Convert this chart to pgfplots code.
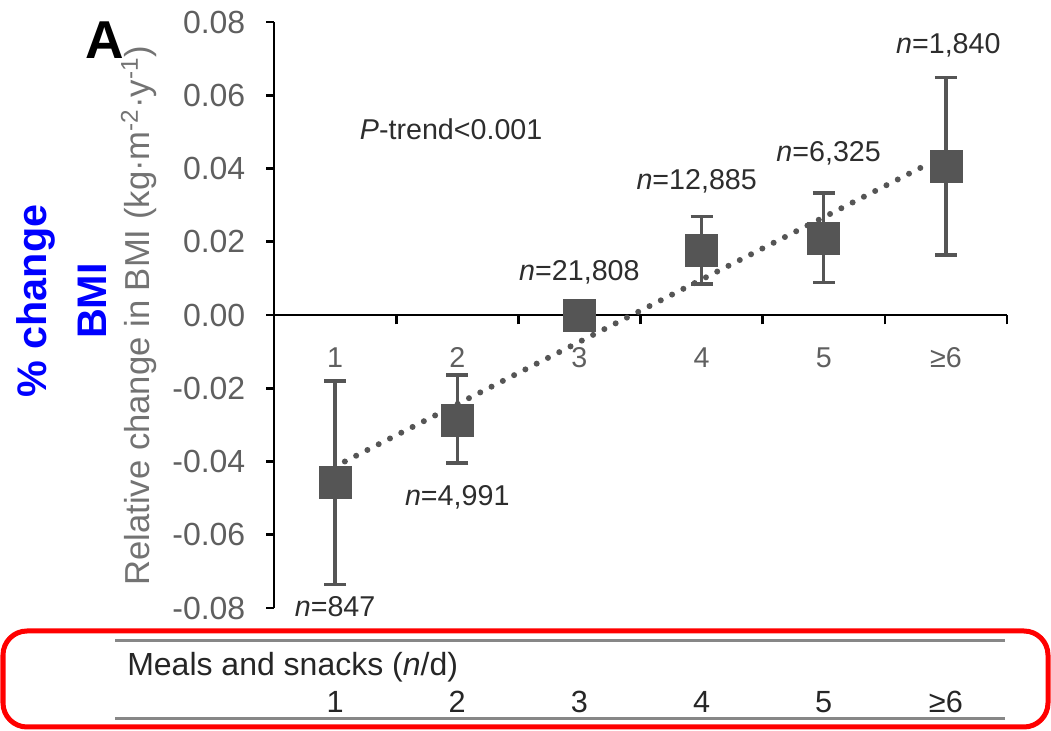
\documentclass[border=0pt]{standalone}
\usepackage{pgfplots}
\pgfplotsset{compat=1.18}
\usepackage{fontspec}
\setmainfont{Liberation Sans}
\definecolor{mk}{RGB}{85,85,85}
\definecolor{tl}{RGB}{95,95,95}
\definecolor{nl}{RGB}{45,45,45}
\definecolor{yl}{RGB}{115,115,115}
\definecolor{tg}{RGB}{135,135,135}
\pgfplotstableread{
x y ep em
1 -0.0456 0.0276 0.0279
2 -0.0287 0.0123 0.0117
3 0.0000 0.0000 0.0000
4 0.0176 0.0093 0.0091
5 0.0210 0.0123 0.0121
6 0.0406 0.0242 0.0242
}\means
\newcommand{\tkf}{\fontsize{21.5}{24}\selectfont}
\newcommand{\tbf}{\fontsize{23}{26}\selectfont}
\begin{document}
\begin{tikzpicture}
\useasboundingbox (0,0) rectangle (788.25pt,548.25pt);
\begin{axis}[
 at={(205.5pt,92.25pt)}, anchor=south west,
 scale only axis, width=549.75pt, height=439.5pt,
 xmin=0.5, xmax=6.5, ymin=-0.08, ymax=0.08,
 axis x line=middle, axis y line=left,
 axis line style={-, line width=2pt, black},
 xtick={1,2,3,4,5,6}, xticklabels={1,2,3,4,5,≥6},
 major x tick style={draw=none},
 minor xtick={1.5,2.5,3.5,4.5,5.5,6.5},
 minor x tick style={line width=2pt, black},
 minor tick length=7pt,
 ytick={-0.08,-0.06,-0.04,-0.02,0,0.02,0.04,0.06,0.08},
 scaled y ticks=false,
 major tick length=6pt,
 y tick style={line width=2pt, black},
 tick align=outside,
 hide obscured x ticks=false, hide obscured y ticks=false,
 /pgf/number format/assume math mode=true,
 yticklabel style={/pgf/number format/fixed, /pgf/number format/fixed zerofill, /pgf/number format/precision=2, font=\fontsize{24}{27}\selectfont, text=tl, xshift=-12pt},
 xticklabel style={font=\tkf, text=tl, yshift=-15pt},
 clip=false,
]
\addplot[color=mk, line width=4.5pt, line cap=round, dash pattern=on 0pt off 9.5pt] coordinates {(1.08,-0.0400) (5.87,0.0415)};
\addplot[only marks, mark=square*, mark size=12pt, color=mk, mark options={fill=mk, draw=mk, line width=0.5pt},
  error bars/.cd, y dir=both, y explicit,
  error bar style={line width=2.5pt, mk},
  error mark options={line width=2.5pt, mk, mark size=8.25pt, rotate=90}]
  table[x=x, y=y, y error plus=ep, y error minus=em] {\means};
\node[nl, font=\tkf] at (axis cs:1,-0.0797) {\textit{n}=847};
\node[nl, font=\tkf] at (axis cs:2,-0.0497) {\textit{n}=4,991};
\node[nl, font=\tkf] at (axis cs:3,0.0117) {\textit{n}=21,808};
\node[nl, font=\tkf] at (axis cs:3.96,0.0366) {\textit{n}=12,885};
\node[nl, font=\tkf] at (axis cs:5.04,0.0442) {\textit{n}=6,325};
\node[nl, font=\tkf] at (axis cs:6.02,0.0737) {\textit{n}=1,840};
\node[nl, font=\tkf] at (axis cs:1.95,0.0508) {\textit{P}-trend<0.001};
\node[black!85, font=\tbf] at (axis cs:1,-0.1057) {1};
\node[black!85, font=\tbf] at (axis cs:2,-0.1057) {2};
\node[black!85, font=\tbf] at (axis cs:3,-0.1057) {3};
\node[black!85, font=\tbf] at (axis cs:4,-0.1057) {4};
\node[black!85, font=\tbf] at (axis cs:5,-0.1057) {5};
\node[black!85, font=\tbf] at (axis cs:6,-0.1057) {≥6};
\end{axis}
\begin{scope}[x=0.75pt, y=-0.75pt, shift={(0pt,548.25pt)}]
\draw[red, line width=3.75pt, rounded corners=18pt] (3,631) rectangle (1048,727);
\draw[tg, line width=2.25pt] (115,641) -- (1005,641);
\draw[tg, line width=2.25pt] (115,719) -- (1005,719);
\node[black!85, font=\fontsize{24}{27}\selectfont, anchor=west, inner sep=0pt] at (127,667) {Meals and snacks (\textit{n}/d)};
\node[font=\fontsize{40}{44}\bfseries\selectfont, inner sep=0pt] at (105,40) {A};
\node[rotate=90, blue, font=\fontsize{31}{45}\bfseries\selectfont, align=center, inner sep=0pt] at (62,301) {\% change\\BMI};
\node[rotate=90, yl, font=\fontsize{26}{29}\selectfont, inner sep=0pt] at (139,316) {Relative change in BMI (kg·m\textsuperscript{-2}·y\textsuperscript{-1})};
\end{scope}
\end{tikzpicture}
\end{document}
